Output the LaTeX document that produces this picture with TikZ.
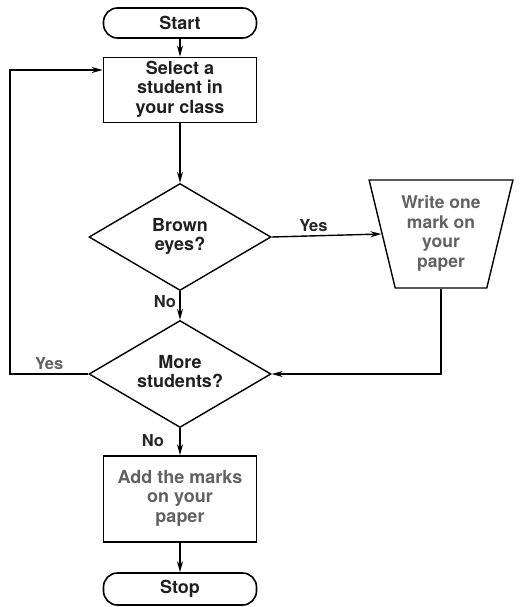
\documentclass[tikz,border=0pt]{standalone}
\usepackage{fontspec}
\setmainfont{TeX Gyre Heros}
\usetikzlibrary{arrows.meta,shapes.geometric,positioning}
\tikzset{
	termstate/.style={
		rectangle,
		rounded corners=14pt,
		draw=black,
		line width=1.6pt,
		minimum width=153pt,
		minimum height=30pt,
		text centered,
		font=\bfseries\fontsize{18}{19}\selectfont,
	},
	procstate/.style={
		rectangle,
		draw=black,
		line width=1.6pt,
		minimum width=153pt,
		text centered,
		font=\bfseries\fontsize{18}{19.5}\selectfont,
	},
	decstate/.style={
		diamond,
		draw=black,
		line width=1.4pt,
		aspect=1.7,
		inner sep=1pt,
		minimum width=182pt,
		minimum height=107pt,
		text centered,
		font=\bfseries\fontsize{18}{19}\selectfont,
	},
	iostate/.style={
		trapezium,
		shape border rotate=180,
		trapezium angle=72,
		trapezium stretches=true,
		draw=black,
		line width=1.4pt,
		minimum width=144pt,
		minimum height=108pt,
		inner xsep=0pt,
		inner ysep=1pt,
		text centered,
		font=\bfseries\fontsize{17.5}{19.5}\selectfont,
	},
	edgelabel/.style={
		font=\bfseries\fontsize{16.5}{19}\selectfont,
		text=black!85,
	},
}

\begin{document}
\begin{tikzpicture}[->,>={Stealth[length=11pt,width=6pt]},line width=1.4pt,text=black!88]
	\useasboundingbox (0pt,0pt) rectangle (520pt,-607pt);

	\node[termstate] (START) at (180pt,-23pt) {Start};

	\node[procstate,
	minimum height=56pt,
	below=67pt of START.center,
	anchor=center] (SELECT)
	{
		\begin{tabular}{c}
		Select a\\
		student in\\
		your class
		\end{tabular}
	};

	\node[decstate,
	below=147pt of SELECT.center,
	anchor=center] (BROWN)
	{
		\begin{tabular}{c}
		Brown\\
		eyes?
		\end{tabular}
	};

	\node[iostate,
	text=black!62,
	above right=3pt and 261pt of BROWN.center,
	anchor=center] (WRITE)
	{
		\begin{tabular}{c}
		Write one\\
		mark on\\
		your\\
		paper
		\end{tabular}
	};

	\node[decstate,
	below=137pt of BROWN.center,
	anchor=center] (MORE)
	{
		\begin{tabular}{c}
		More\\
		students?
		\end{tabular}
	};

	\node[procstate,
	minimum height=86pt,
	text=black!62,
	below=125pt of MORE.center,
	anchor=center] (ADD)
	{
		\begin{tabular}{c}
		Add the marks\\
		on your\\
		paper
		\end{tabular}
	};

	\node[termstate,
	minimum height=32pt,
	below=90pt of ADD.center,
	anchor=center] (STOP) {Stop};

	\coordinate[left=170pt of MORE.center] (CORNER);
	\coordinate[above=20pt of SELECT.west] (ENTRY);

	\path
	(START) edge (SELECT)
	(SELECT) edge (BROWN)
	(BROWN.east) edge node[edgelabel,above,pos=0.38]{Yes} (WRITE.west)
	(BROWN) edge node[edgelabel,left,pos=0.35]{No} (MORE)
	(MORE) edge node[edgelabel,left,pos=0.45,xshift=-12pt]{No} (ADD)
	(ADD) edge (STOP);

	\draw (WRITE.south) |- (MORE.east);
	\draw (MORE.west) -- node[edgelabel,above,text=black!62]{Yes} (CORNER) |- (ENTRY);

\end{tikzpicture}
\end{document}
